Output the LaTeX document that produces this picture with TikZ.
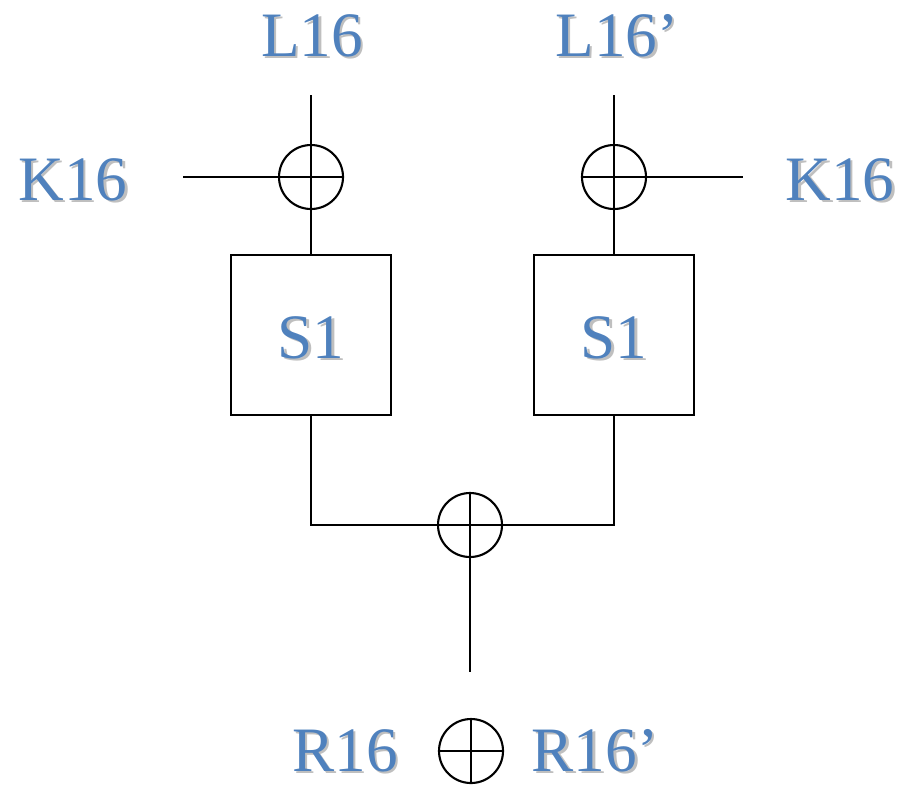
\documentclass[tikz,border=0pt]{standalone}
\usepackage{fontspec}
\setmainfont{Liberation Serif}
\definecolor{labelblue}{HTML}{4F81BD}
\definecolor{labelshade}{HTML}{BFBFBF}
\newcommand{\shadelabel}[1]{\rlap{\kern0.7pt\raisebox{-0.7pt}{\color{labelshade}#1}}{\color{labelblue}#1}}
\tikzset{
  lbl/.style={inner sep=0pt, anchor=base, font=\fontsize{18}{20}\selectfont},
  sbox/.style={draw, line width=0.6pt, minimum size=1.6cm, inner sep=0pt},
  xorop/.style={draw, circle, line width=0.6pt, minimum size=0.64cm, inner sep=0pt,
    path picture={\draw[line width=0.6pt] (path picture bounding box.north) -- (path picture bounding box.south)
      (path picture bounding box.west) -- (path picture bounding box.east);}}
}
\begin{document}
\begin{tikzpicture}[line width=0.6pt]
\useasboundingbox (0,0) rectangle (9.13,7.84);

% Entradas
\node [lbl] (l16) at (3.12,7.28) {\shadelabel{L16}};
\node [lbl] (l16p) at (6.17,7.28) {\shadelabel{L16'}};
\node [lbl] (k16a) at (0.73,5.84) {\shadelabel{K16}};
\node [lbl] (k16b) at (8.40,5.84) {\shadelabel{K16}};

\coordinate (inL) at (3.11,6.89);
\coordinate (inR) at (6.14,6.89);
\coordinate (keyL) at (1.83,6.07);
\coordinate (keyR) at (7.43,6.07);

% XOR con la clave
\node [xorop] (xorL) at (3.11,6.07) {};
\node [xorop] (xorR) at (6.14,6.07) {};

% Cajas S
\node [sbox] (s1a) at (3.11,4.49) {};
\node [sbox] (s1b) at (6.14,4.49) {};
\node [lbl] at (3.11,4.26) {\shadelabel{S1}};
\node [lbl] at (6.14,4.26) {\shadelabel{S1}};

% XOR de salida
\node [xorop] (xorM) at (4.70,2.59) {};
\coordinate (outM) at (4.70,1.12);

% Conexiones
\draw (inL) -- (xorL.north);
\draw (keyL) -- (xorL.west);
\draw (xorL.south) -- (s1a.north);
\draw (inR) -- (xorR.north);
\draw (xorR.east) -- (keyR);
\draw (xorR.south) -- (s1b.north);
\draw (s1a.south) |- (xorM.west);
\draw (s1b.south) |- (xorM.east);
\draw (xorM.south) -- (outM);

% Resultado
\node [lbl] (r16) at (3.45,0.13) {\shadelabel{R16}};
\node [xorop] (xorB) at (4.71,0.33) {};
\node [lbl] (r16p) at (5.95,0.13) {\shadelabel{R16'}};
\end{tikzpicture}
\end{document}
